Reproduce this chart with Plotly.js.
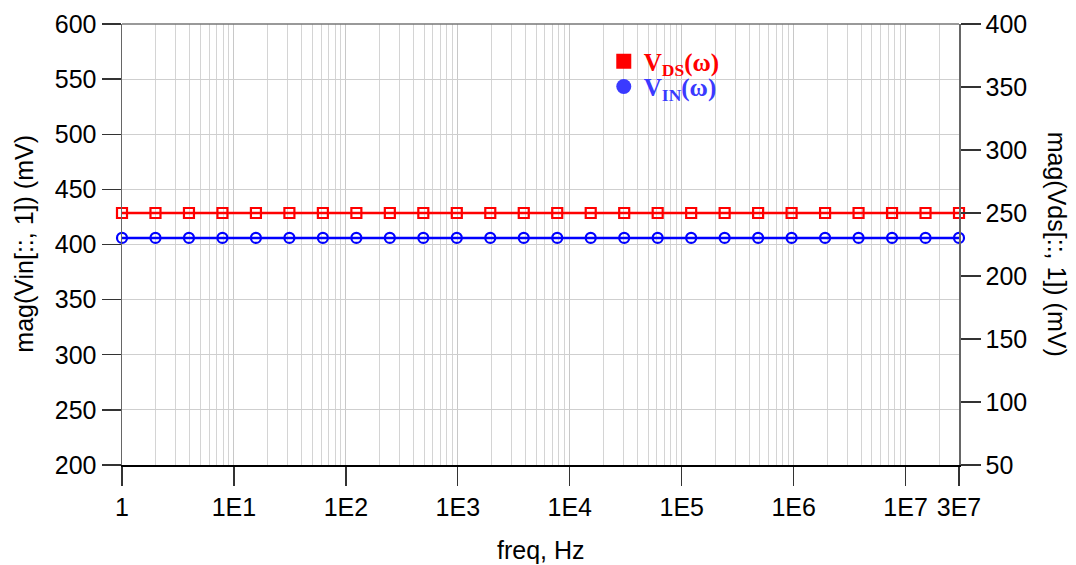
<!DOCTYPE html>
<html>
<head>
<meta charset="utf-8">
<script src="https://cdn.plot.ly/plotly-3.0.1.min.js"></script>
<style>html,body{margin:0;padding:0;background:#fff;}#chart{width:1076px;height:565px;}</style>
</head>
<body>
<div id="chart"></div>
<script>
// Frequency sweep points (Hz), log-spaced from 1 to 3E7
const freq = [1, 1.991, 3.964, 7.893, 15.72, 31.29, 62.30, 124.05, 246.99, 491.8, 979.2,
  1949.6, 3881.7, 7728.7, 15388, 30639, 61005, 121465, 241845, 481530, 958760,
  1908967, 3800880, 7567800, 15068000, 30000000];
// mag(Vin[::,1]) in mV (left axis)
const vin = [406, 406, 406, 406, 406, 406, 406, 406, 406, 406, 406, 406, 406,
  406, 406, 406, 406, 406, 406, 406, 406, 406, 406, 406, 406, 406];
// mag(Vds[::,1]) in mV (right axis)
const vds = [250, 250, 250, 250, 250, 250, 250, 250, 250, 250, 250, 250, 250,
  250, 250, 250, 250, 250, 250, 250, 250, 250, 250, 250, 250, 250];
const xTickVals = [1, 1e1, 1e2, 1e3, 1e4, 1e5, 1e6, 1e7, 3e7];
const xTickText = ['1', '1E1', '1E2', '1E3', '1E4', '1E5', '1E6', '1E7', '3E7'];
const minorMantissas = [2, 3, 4, 5, 6, 7, 8, 9];
const decades = [1, 1e1, 1e2, 1e3, 1e4, 1e5, 1e6, 1e7];
const legendNames = ['<b><span style="color:#ff0000">V<sub>DS</sub>(ω)</span></b>',
                     '<b><span style="color:#3a3aff">V<sub>IN</sub>(ω)</span></b>'];

const minorVals = [];
decades.forEach(d => minorMantissas.forEach(m => { if (m * d <= 3e7) minorVals.push(m * d); }));

const traces = [
  {x: freq, y: vin, yaxis: 'y', type: 'scatter', mode: 'lines+markers', showlegend: false,
   cliponaxis: false,
   line: {color: '#0000ff', width: 2.5},
   marker: {symbol: 'circle-open', size: 10, color: '#0000ff', line: {width: 2.2, color: '#0000ff'}}},
  {x: freq, y: vds, yaxis: 'y2', type: 'scatter', mode: 'lines+markers', showlegend: false,
   cliponaxis: false,
   line: {color: '#ff0000', width: 2.5},
   marker: {symbol: 'square-open', size: 10, color: '#ff0000', line: {width: 2.2, color: '#ff0000'}}},
  {x: [null], y: [null], type: 'scatter', mode: 'markers', name: legendNames[0], legend: 'legend',
   marker: {symbol: 'square', size: 15, color: '#ff0000'}},
  {x: [null], y: [null], type: 'scatter', mode: 'markers', name: legendNames[1], legend: 'legend2',
   marker: {symbol: 'circle', size: 15, color: '#3a3aff'}}
];

const tickFont = {family: 'Liberation Sans, Arial, sans-serif', size: 25, color: '#000'};
const titleFont = {family: 'Liberation Sans, Arial, sans-serif', size: 25, color: '#000'};
const legFont = {family: 'Liberation Serif, Times New Roman, serif', size: 25};

const layout = {
  width: 1076, height: 565,
  margin: {l: 122, r: 117, t: 24, b: 100},
  paper_bgcolor: '#fff', plot_bgcolor: '#fff',
  showlegend: true,
  legend: {x: 0.5756, y: 0.967, xanchor: 'left', yanchor: 'top', bgcolor: 'rgba(0,0,0,0)',
           font: legFont, itemsizing: 'trace'},
  legend2: {x: 0.5756, y: 0.910, xanchor: 'left', yanchor: 'top', bgcolor: 'rgba(0,0,0,0)',
           font: legFont, itemsizing: 'trace'},
  xaxis: {type: 'log', range: [0, Math.log10(3e7)], tickmode: 'array', tickvals: xTickVals, ticktext: xTickText,
          ticks: 'outside', ticklen: 19, tickwidth: 1.3, tickcolor: '#333',
          showline: true, linecolor: '#000', linewidth: 1.5,
          showgrid: true, gridcolor: '#c8c8c8', gridwidth: 1,
          minor: {tickmode: 'array', tickvals: minorVals, showgrid: true, gridcolor: '#d4d4d4', gridwidth: 1, ticks: ''},
          tickfont: tickFont, zeroline: false},
  yaxis: {range: [200, 600], dtick: 50, tick0: 200, ticks: 'outside', ticklen: 19, tickwidth: 1.3, tickcolor: '#333',
          showline: true, linecolor: '#666', linewidth: 1.5,
          showgrid: true, gridcolor: '#cfcfcf', gridwidth: 1, zeroline: false, tickfont: tickFont},
  yaxis2: {range: [50, 400], dtick: 50, tick0: 50, overlaying: 'y', side: 'right', anchor: 'x',
           ticks: 'outside', ticklen: 20, tickwidth: 1.3, tickcolor: '#333',
           showline: true, linecolor: '#666', linewidth: 1.5,
           showgrid: false, zeroline: false, tickfont: tickFont},
  shapes: [{type: 'line', xref: 'paper', yref: 'paper', x0: 0, x1: 1, y0: 1, y1: 1,
            line: {color: '#777', width: 1.5}}],
  annotations: [
    {text: 'mag(Vin[::, 1]) (mV)', xref: 'paper', yref: 'paper', x: -0.1165, y: 0.503,
     textangle: -90, showarrow: false, font: titleFont, xanchor: 'center', yanchor: 'middle'},
    {text: 'mag(Vds[::, 1]) (mV)', xref: 'paper', yref: 'paper', x: 1.118, y: 0.5,
     textangle: 90, showarrow: false, font: titleFont, xanchor: 'center', yanchor: 'middle'},
    {text: 'freq, Hz', xref: 'paper', yref: 'paper', x: 0.5, y: -0.193,
     showarrow: false, font: titleFont, xanchor: 'center', yanchor: 'middle'}
  ]
};

Plotly.newPlot('chart', traces, layout, {displayModeBar: false, staticPlot: true});
</script>
</body>
</html>
